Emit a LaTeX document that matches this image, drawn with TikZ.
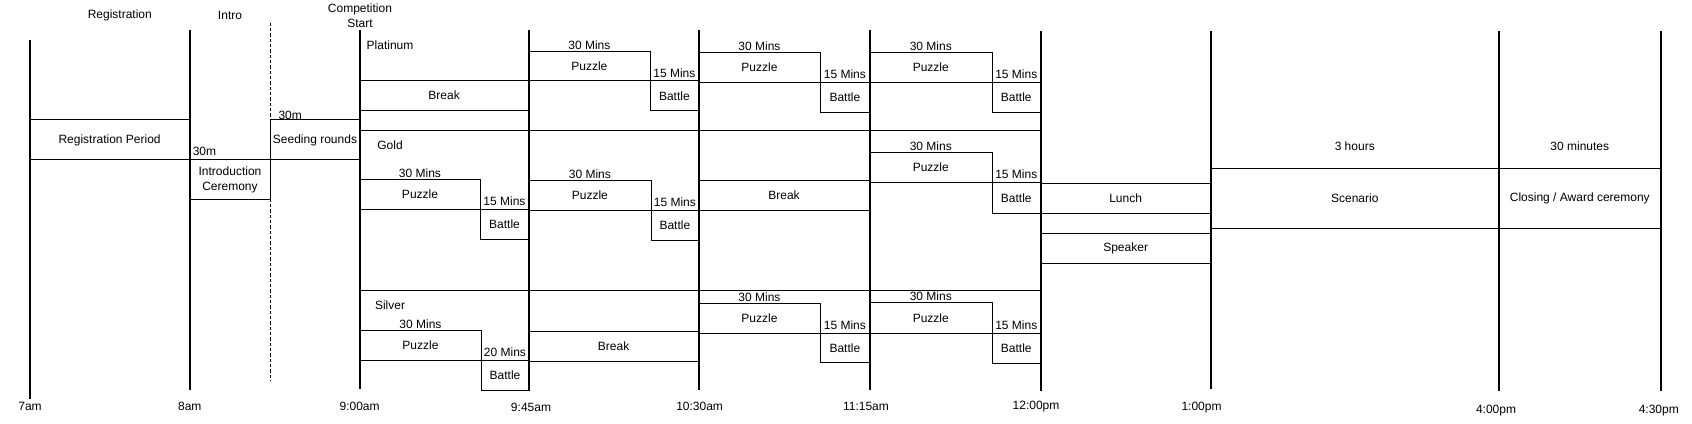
\documentclass[tikz,border=0pt]{standalone}
\usepackage{fontspec}
\setmainfont{Liberation Sans}
\usetikzlibrary{fit,positioning}

\begin{document}
\begin{tikzpicture}[x=0.75pt, y=-0.75pt,
    font=\fontsize{9}{11.3}\selectfont,
    timeline/.style={line width=1.5pt},
    divider/.style={line width=0.75pt},
    slot/.style={draw, line width=0.75pt, inner sep=0pt, outer sep=0pt},
    tag/.style={inner sep=0pt, align=center}]
    \useasboundingbox (0,0) rectangle (1692,424);

    % Time axis
    \draw[timeline] (29.6,40) -- (29.6,399.3);
    \draw[timeline] (189.6,30) -- (189.6,390);
    \draw[line width=0.75pt, dash pattern=on 2.5pt off 1.5pt] (270.4,22.7) -- (270.4,380.7);
    \draw[timeline] (359.6,30) -- (359.6,389.3);
    \draw[timeline] (528.6,30) -- (528.6,390.5);
    \draw[timeline] (698.6,30) -- (698.6,390);
    \draw[timeline] (869.5,30) -- (869.5,390);
    \draw[timeline] (1040.6,31) -- (1040.6,390.7);
    \draw[timeline] (1210.7,31) -- (1210.7,389);
    \draw[timeline] (1498.8,31) -- (1498.8,390.7);
    \draw[timeline] (1660.8,31) -- (1660.8,390.7);

    \node[tag] (t700) at (30,406) {7am};
    \node[tag] (t800) at (189.8,406) {8am};
    \node[tag] (t900) at (359.6,406) {9:00am};
    \node[tag] (t945) at (531,407.5) {9:45am};
    \node[tag] (t1030) at (699.6,406.5) {10:30am};
    \node[tag] (t1115) at (866,406.5) {11:15am};
    \node[tag] (t1200) at (1036,406.5) {12:00pm};
    \node[tag] (t1300) at (1201.5,408) {1:00pm};
    \node[tag] (t1600) at (1496,410.5) {4:00pm};
    \node[tag] (t1630) at (1658.8,410.5) {4:30pm};

    % Headings
    \node[tag] (registration) at (119.8,15.3) {Registration};
    \node[tag] (intro) at (230,15.3) {Intro};
    \node[tag] (compstart) at (360,15.6) {Competition\\Start};

    % Before the competition
    \node[slot, fit={(29.6,120) (189.6,160)}, label=center:Registration Period] (regperiod) {};
    \node[slot, fit={(189.6,160) (270.4,200)}, label={[align=center]center:Introduction\\Ceremony}] (ceremony) {};
    \node[tag, anchor=west] (ceremonymins) at (192.5,151.7) {30m};
    \node[slot, fit={(270.4,120) (359.6,160)}, label=center:Seeding rounds] (seeding) {};
    \node[tag, anchor=west] (seedingmins) at (278.3,115.7) {30m};

    % Platinum
    \node[tag] (platinum) at (390,45) {Platinum};
    \node[slot, fit={(359.6,80.3) (528.6,110.3)}, label=center:Break] (pbreak) {};
    \node[slot, fit={(528.6,51.7) (650.2,81)}, label=center:Puzzle] (p1puzzle) {};
    \node[tag, above=1pt of p1puzzle] (p1puzzlemins) {30 Mins};
    \node[slot, fit={(650.2,81) (698.6,111)}, label=center:Battle] (p1battle) {};
    \node[tag, above=2.5pt of p1battle] (p1battlemins) {15 Mins};
    \node[slot, fit={(698.6,52.7) (820.3,82.3)}, label=center:Puzzle] (p2puzzle) {};
    \node[tag, above=1pt of p2puzzle] (p2puzzlemins) {30 Mins};
    \node[slot, fit={(820.3,82.3) (869.5,112.3)}, label=center:Battle] (p2battle) {};
    \node[tag, above=2.5pt of p2battle] (p2battlemins) {15 Mins};
    \node[slot, fit={(869.5,52.7) (992,82.3)}, label=center:Puzzle] (p3puzzle) {};
    \node[tag, above=1pt of p3puzzle] (p3puzzlemins) {30 Mins};
    \node[slot, fit={(992,82.3) (1040.6,113)}, label=center:Battle] (p3battle) {};
    \node[tag, above=2.5pt of p3battle] (p3battlemins) {15 Mins};
    \draw[divider] (359.6,130.3) -- (1040.6,130.3);

    % Gold
    \node[tag] (gold) at (390,145) {Gold};
    \node[slot, fit={(359.6,179.3) (480.4,209.3)}, label=center:Puzzle] (g1puzzle) {};
    \node[tag, above=1pt of g1puzzle] (g1puzzlemins) {30 Mins};
    \node[slot, fit={(480.4,209.3) (528.6,239.3)}, label=center:Battle] (g1battle) {};
    \node[tag, above=2.5pt of g1battle] (g1battlemins) {15 Mins};
    \node[slot, fit={(528.6,180.3) (651.2,210.3)}, label=center:Puzzle] (g2puzzle) {};
    \node[tag, above=1pt of g2puzzle] (g2puzzlemins) {30 Mins};
    \node[slot, fit={(651.2,210.3) (698.6,240.3)}, label=center:Battle] (g2battle) {};
    \node[tag, above=2.5pt of g2battle] (g2battlemins) {15 Mins};
    \node[slot, fit={(698.6,180.3) (869.5,210.3)}, label=center:Break] (gbreak) {};
    \node[slot, fit={(869.5,152.3) (992,182.3)}, label=center:Puzzle] (g3puzzle) {};
    \node[tag, above=1pt of g3puzzle] (g3puzzlemins) {30 Mins};
    \node[slot, fit={(992,182.3) (1040.6,213.3)}, label=center:Battle] (g3battle) {};
    \node[tag, above=2.5pt of g3battle] (g3battlemins) {15 Mins};
    \draw[divider] (359.6,290) -- (1040.6,290);

    % Silver
    \node[tag] (silver) at (390,305) {Silver};
    \node[slot, fit={(359.6,330.3) (481.4,360.3)}, label=center:Puzzle] (s1puzzle) {};
    \node[tag, above=1pt of s1puzzle] (s1puzzlemins) {30 Mins};
    \node[slot, fit={(481.4,360.3) (528.6,390.3)}, label=center:Battle] (s1battle) {};
    \node[tag, above=2.5pt of s1battle] (s1battlemins) {20 Mins};
    \node[slot, fit={(528.6,331.3) (698.6,361.3)}, label=center:Break] (sbreak) {};
    \node[slot, fit={(698.6,303.3) (820.3,333.3)}, label=center:Puzzle] (s2puzzle) {};
    \node[tag, above=1pt of s2puzzle] (s2puzzlemins) {30 Mins};
    \node[slot, fit={(820.3,333.3) (869.5,362.3)}, label=center:Battle] (s2battle) {};
    \node[tag, above=2.5pt of s2battle] (s2battlemins) {15 Mins};
    \node[slot, fit={(869.5,302.7) (992,333)}, label=center:Puzzle] (s3puzzle) {};
    \node[tag, above=1pt of s3puzzle] (s3puzzlemins) {30 Mins};
    \node[slot, fit={(992,333) (1040.6,363.3)}, label=center:Battle] (s3battle) {};
    \node[tag, above=2.5pt of s3battle] (s3battlemins) {15 Mins};

    % Afternoon
    \node[slot, fit={(1040.6,183.3) (1210.7,213.3)}, label=center:Lunch] (lunch) {};
    \node[slot, fit={(1040.6,233.3) (1210.7,263.3)}, label=center:Speaker] (speaker) {};
    \node[slot, fit={(1210.7,168.3) (1498.8,228.3)}, label=center:Scenario] (scenario) {};
    \node[tag, above=12.7pt of scenario] (scenariotime) {3 hours};
    \node[slot, fit={(1498.8,168.3) (1660.8,228.3)}, label=center:Closing / Award ceremony] (closing) {};
    \node[tag, above=12.7pt of closing] (closingtime) {30 minutes};
\end{tikzpicture}
\end{document}
